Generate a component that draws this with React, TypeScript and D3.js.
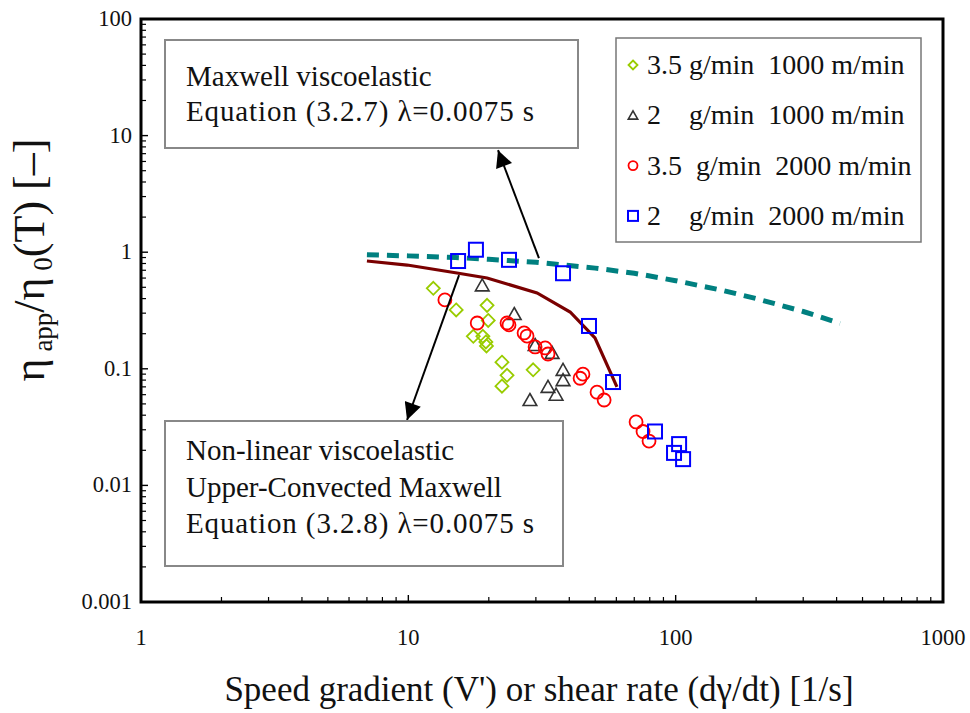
import React from "react";
import * as d3 from "d3";

// Measured viscosity ratio vs. speed gradient, four spinning conditions
const diamondPts: [number, number][] = [
  [12.4, 0.49], [15.1, 0.32], [19.7, 0.35], [19.9, 0.26], [17.5, 0.19], [19.0, 0.19],
  [19.5, 0.17], [19.6, 0.157], [22.4, 0.114], [23.4, 0.088], [22.4, 0.071], [29.3, 0.098],
];
const trianglePts: [number, number][] = [
  [18.9, 0.52], [24.9, 0.295], [29.8, 0.16], [34.5, 0.137], [37.9, 0.098],
  [37.9, 0.08], [33.3, 0.07], [35.7, 0.06], [28.5, 0.054],
];
const circlePts: [number, number][] = [
  [13.7, 0.39], [18.1, 0.247], [23.4, 0.247], [23.8, 0.238], [27.1, 0.203], [27.8, 0.191],
  [29.8, 0.154], [32.5, 0.151], [33.3, 0.134], [43.9, 0.083], [45.0, 0.09], [50.8, 0.063],
  [54.0, 0.054], [71.1, 0.035], [75.5, 0.029], [79.5, 0.024],
];
const squarePts: [number, number][] = [
  [15.35, 0.84], [17.9, 1.05], [23.8, 0.86], [37.9, 0.66], [47.4, 0.233],
  [58.3, 0.077], [83.7, 0.029], [103, 0.0226], [98.6, 0.019], [106.6, 0.0168],
];

// Model curves
const maxwellCurve: [number, number][] = [
  [7, 0.95], [10, 0.93], [15, 0.9], [20, 0.87], [30, 0.82], [50, 0.73], [70, 0.66],
  [100, 0.57], [150, 0.47], [200, 0.4], [300, 0.31], [412, 0.245],
];
const ucmCurve: [number, number][] = [
  [7, 0.84], [9.9, 0.776], [15.2, 0.663], [19.7, 0.601], [30.3, 0.447], [40.3, 0.307],
  [49.9, 0.184], [60.3, 0.07],
];

// Annotation arrows (data coordinates)
const arrowMaxwell: [number, number][] = [[30.8, 0.89], [21.65, 7.5]];
const arrowUcm: [number, number][] = [[15.48, 0.637], [9.89, 0.0364]];

const xTicks = [1, 10, 100, 1000];
const yTicks = [0.001, 0.01, 0.1, 1, 10, 100];
const xTickLabels = ["1", "10", "100", "1000"];
const yTickLabels = ["0.001", "0.01", "0.1", "1", "10", "100"];

const legendLabels = [
  "3.5 g/min  1000 m/min",
  "2    g/min  1000 m/min",
  "3.5  g/min  2000 m/min",
  "2    g/min  2000 m/min",
];
const maxwellText = ["Maxwell viscoelastic", "Equation (3.2.7) \u03bb=0.0075 s"];
const ucmText = ["Non-linear viscoelastic", "Upper-Convected Maxwell", "Equation (3.2.8) \u03bb=0.0075 s"];

const W = 970, H = 713;
const L = 141, R = 943, T = 19, B = 602;
const FONT = "'Liberation Serif', 'DejaVu Serif', serif";

const GREEN = "#99cc00", GREY = "#333333", RED = "#ff0000", BLUE = "#0000ff";

type Kind = "diamond" | "triangle" | "circle" | "square";

function Marker({ kind, cx, cy, s }: { kind: Kind; cx: number; cy: number; s: number }) {
  if (kind === "diamond") {
    const h = s / 2;
    return <path d={`M${cx},${cy - h}L${cx + h},${cy}L${cx},${cy + h}L${cx - h},${cy}Z`} fill="none" stroke={GREEN} strokeWidth={1.8} />;
  }
  if (kind === "triangle") {
    const h = s / 2;
    return <path d={`M${cx},${cy - h}L${cx + h * 1.05},${cy + h * 0.85}L${cx - h * 1.05},${cy + h * 0.85}Z`} fill="none" stroke={GREY} strokeWidth={1.6} />;
  }
  if (kind === "circle") {
    return <circle cx={cx} cy={cy} r={s / 2} fill="none" stroke={RED} strokeWidth={1.8} />;
  }
  return <rect x={cx - s / 2} y={cy - s / 2} width={s} height={s} fill="none" stroke={BLUE} strokeWidth={2} />;
}

export default function App() {
  const x = d3.scaleLog().domain([1, 1000]).range([L, R]);
  const y = d3.scaleLog().domain([0.001, 100]).range([B, T]);
  const line = d3.line<[number, number]>().x((d) => x(d[0])).y((d) => y(d[1]));

  const minors = (lo: number, hi: number) => {
    const out: number[] = [];
    for (let dec = lo; dec < hi; dec *= 10) for (let k = 2; k <= 9; k++) out.push(dec * k);
    return out;
  };
  const xMinor = minors(1, 1000);
  const yMinor = minors(0.001, 100);

  const series: { kind: Kind; pts: [number, number][] }[] = [
    { kind: "diamond", pts: diamondPts },
    { kind: "triangle", pts: trianglePts },
    { kind: "circle", pts: circlePts },
    { kind: "square", pts: squarePts },
  ];
  const plotSize: Record<Kind, number> = { diamond: 13, triangle: 13, circle: 13, square: 14 };
  const legendSize: Record<Kind, number> = { diamond: 9, triangle: 9, circle: 9, square: 10 };

  return (
    <svg width={W} height={H} style={{ position: "absolute", left: 0, top: 0, background: "#fff" }} fontFamily={FONT}>
      <defs>
        <marker id="ah" viewBox="0 0 10 10" refX="10" refY="5" markerWidth="20" markerHeight="17" markerUnits="userSpaceOnUse" orient="auto">
          <path d="M0,0L10,5L0,10Z" fill="#000" />
        </marker>
      </defs>
      <rect width={W} height={H} fill="#fff" />

      {/* model curves */}
      <path d={line(maxwellCurve) ?? ""} fill="none" stroke="#008080" strokeWidth={5} strokeDasharray="12,8" />
      <path d={line(ucmCurve) ?? ""} fill="none" stroke="#7a0000" strokeWidth={3.2} />

      {/* data points */}
      {series.map((s) =>
        s.pts.map((p, i) => <Marker key={s.kind + i} kind={s.kind} cx={x(p[0])} cy={y(p[1])} s={plotSize[s.kind]} />)
      )}

      {/* annotation arrows */}
      {[arrowMaxwell, arrowUcm].map((a, i) => (
        <line key={i} x1={x(a[0][0])} y1={y(a[0][1])} x2={x(a[1][0])} y2={y(a[1][1])} stroke="#000" strokeWidth={2} markerEnd="url(#ah)" />
      ))}

      {/* annotation boxes */}
      <rect x={165} y={40} width={413} height={108} fill="#fff" stroke="#888" strokeWidth={2} />
      {maxwellText.map((t, i) => (
        <text key={i} x={186} y={86 + i * 35} fontSize={29} fill="#111"
          {...(i === 1 ? { textLength: 348, lengthAdjust: "spacing" } : {})}>{t}</text>
      ))}
      <rect x={165} y={421} width={398} height={145} fill="#fff" stroke="#888" strokeWidth={2} />
      {ucmText.map((t, i) => (
        <text key={i} x={186} y={460 + i * 36.5} fontSize={29} fill="#111"
          {...(i === 2 ? { textLength: 348, lengthAdjust: "spacing" } : {})}>{t}</text>
      ))}

      {/* legend */}
      <rect x={616} y={38} width={305} height={204} fill="#fff" stroke="#777" strokeWidth={1.5} />
      {series.map((s, i) => (
        <g key={s.kind}>
          <Marker kind={s.kind} cx={633} cy={65 + i * 50.3} s={legendSize[s.kind]} />
          <text x={647} y={74 + i * 50.3} fontSize={28} fill="#111" style={{ whiteSpace: "pre" }}>{legendLabels[i]}</text>
        </g>
      ))}

      {/* ticks */}
      {xMinor.map((v) => (
        <line key={"xm" + v} x1={x(v)} x2={x(v)} y1={B} y2={B - 5} stroke="#000" strokeWidth={1.2} />
      ))}
      {xTicks.map((v) => (
        <line key={"xM" + v} x1={x(v)} x2={x(v)} y1={B} y2={B - 7} stroke="#000" strokeWidth={1.4} />
      ))}
      {yMinor.map((v) => (
        <line key={"ym" + v} x1={L} x2={L + 5} y1={y(v)} y2={y(v)} stroke="#000" strokeWidth={1.2} />
      ))}
      {yTicks.map((v) => (
        <line key={"yM" + v} x1={L} x2={L + 7} y1={y(v)} y2={y(v)} stroke="#000" strokeWidth={1.4} />
      ))}

      {/* frame */}
      <rect x={L} y={T} width={R - L} height={B - T} fill="none" stroke="#000" strokeWidth={3} />

      {/* tick labels */}
      {xTicks.map((v, i) => (
        <text key={"xl" + v} x={x(v)} y={645} fontSize={22.5} textAnchor="middle" fill="#111">{xTickLabels[i]}</text>
      ))}
      {yTicks.map((v, i) => (
        <text key={"yl" + v} x={132} y={y(v) + 7} fontSize={22.5} textAnchor="end" fill="#111">{yTickLabels[i]}</text>
      ))}

      {/* axis titles */}
      <text x={(L + R) / 2 - 3} y={701} fontSize={35} textAnchor="middle" fill="#111">
        Speed gradient (V') or shear rate (d{"\u03b3"}/dt) [1/s]
      </text>
      <text transform="translate(44,260) rotate(-90)" textAnchor="middle" fontSize={44} fill="#111">
        <tspan>{"\u03b7"}</tspan>
        <tspan fontSize={27} dy={8}> app</tspan>
        <tspan dy={-8}>/{"\u03b7"}</tspan>
        <tspan fontSize={27} dy={8}> 0</tspan>
        <tspan dy={-8}>(T) [{"\u2013"}]</tspan>
      </text>
    </svg>
  );
}
